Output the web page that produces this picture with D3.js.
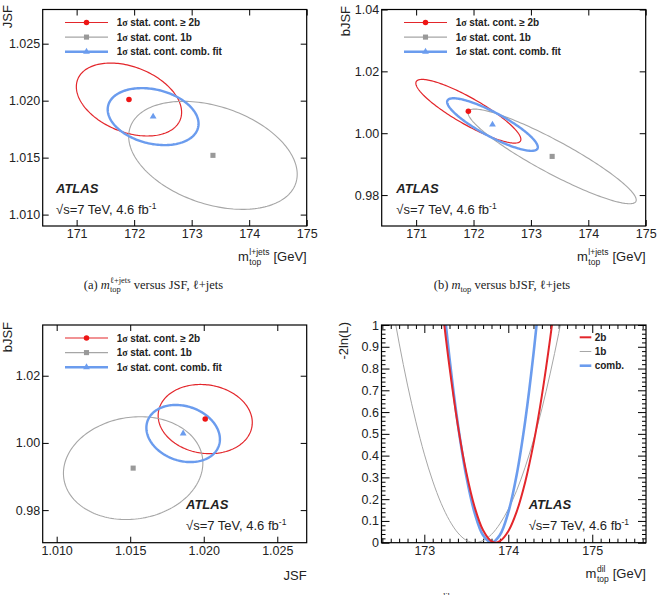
<!DOCTYPE html>
<html>
<head>
<meta charset="utf-8">
<script src="https://cdn.jsdelivr.net/npm/d3@7"></script>
<style>
body { margin: 0; background: #fff; }
svg { display: block; font-family: "Liberation Sans", Arial, sans-serif; }
text { fill: #222; white-space: pre; }
</style>
</head>
<body>
<div id="chart"></div>
<script>
// Fits: >=2b, 1b, combined (same order in every array)
var fitKeys = ["2b", "1b", "comb."];
var contourLabels = ["stat. cont. \u2265 2b", "stat. cont. 1b", "stat. cont. comb. fit"];

// best-fit values and 1 sigma stat. widths
var mtopCenter = [171.91, 173.37, 172.33];
var mtopSigma = [0.915, 1.465, 0.79];
var jsfCenter = [1.0201, 1.0152, 1.0186];
var jsfSigma = [0.0032, 0.00474, 0.0025];
var bjsfCenter = [1.0071, 0.9925, 1.0028];
var bjsfSigma = [0.0103, 0.0153, 0.0085];
var rhoMtopJsf = [-0.35, -0.35, -0.25];
var rhoMtopBjsf = [-0.88, -0.92, -0.86];
var rhoJsfBjsf = [-0.1, 0.1, -0.2];

// dilepton likelihood scans, -2ln(L)
var mass2b = [173.1, 173.2, 173.3, 173.4, 173.5, 173.6, 173.7, 173.8, 173.85, 173.9, 174.0, 174.1, 174.2, 174.3, 174.4, 174.5, 174.6];
var nll2b = [1.506, 1.129, 0.806, 0.537, 0.323, 0.163, 0.057, 0.006, 0, 0.007, 0.053, 0.143, 0.277, 0.454, 0.676, 0.942, 1.251];
var mass1b = [172.5, 172.6, 172.7, 172.8, 172.9, 173.0, 173.1, 173.2, 173.3, 173.4, 173.5, 173.6, 173.7, 173.8, 173.9, 174.0, 174.1, 174.2, 174.3, 174.4, 174.5, 174.6, 174.7, 174.8];
var nll1b = [1.369, 1.132, 0.917, 0.724, 0.555, 0.407, 0.283, 0.181, 0.102, 0.045, 0.011, 0, 0.010, 0.038, 0.087, 0.154, 0.240, 0.346, 0.471, 0.615, 0.779, 0.961, 1.163, 1.384];
var massComb = [173.1, 173.2, 173.3, 173.4, 173.5, 173.6, 173.7, 173.8, 173.9, 174.0, 174.1, 174.2, 174.3, 174.4];
var nllComb = [1.662, 1.221, 0.848, 0.543, 0.305, 0.136, 0.034, 0, 0.035, 0.139, 0.312, 0.555, 0.867, 1.248];

// tick labels
var mtopTicks = [171, 172, 173, 174, 175];
var jsfTicks = [1.010, 1.015, 1.020, 1.025];
var bjsfTicksB = [0.98, 1.00, 1.02, 1.04];
var bjsfTicksC = [0.98, 1.00, 1.02];
var dilTicks = [173, 174, 175];
var nllTicks = [0, 0.1, 0.2, 0.3, 0.4, 0.5, 0.6, 0.7, 0.8, 0.9, 1];

var lineColors = ["#e3262b", "#a6a6a6", "#6b9cee"];
var markColors = ["#ee1515", "#999999", "#6b9cee"];
var contourWidth = [1.2, 1.1, 2.4];
var scanWidth = [2, 1, 2.6];
var serif = "Liberation Serif, serif";

var svg = d3.select("#chart").append("svg")
    .attr("width", 657)
    .attr("height", 595);

function tickAxis(axisFn, scale, values, size, transform, fmt, pad) {
    var a = axisFn(scale).tickValues(values).tickSize(-size).tickPadding(pad || 3);
    a.tickFormat(fmt || function() { return ""; });
    var g = svg.append("g").attr("transform", transform).call(a)
        .attr("font-size", 12.5)
        .attr("font-family", "Liberation Sans, Arial, sans-serif");
    g.select(".domain").remove();
    g.selectAll("line").attr("stroke", "#000").attr("stroke-width", 1);
    g.selectAll("text").attr("fill", "#222");
    return g;
}

function drawFrame(box, sx, sy, xTicks, yTicks, xFmt, yFmt, len) {
    tickAxis(d3.axisBottom, sx, xTicks, len, `translate(0,${box.y1})`, xFmt, 3.6);
    tickAxis(d3.axisTop, sx, xTicks, len, `translate(0,${box.y0})`);
    tickAxis(d3.axisLeft, sy, yTicks, len, `translate(${box.x0},0)`, yFmt, 2.5);
    tickAxis(d3.axisRight, sy, yTicks, len, `translate(${box.x1},0)`);
}

function frameRect(box) {
    svg.append("rect")
        .attr("x", box.x0).attr("y", box.y0)
        .attr("width", box.x1 - box.x0).attr("height", box.y1 - box.y0)
        .attr("fill", "none").attr("stroke", "#000").attr("stroke-width", 1.2);
}

function marker(g, i, x, y) {
    var sym = [d3.symbolCircle, d3.symbolSquare, d3.symbolTriangle][i];
    var size = [24, 26, 20][i];
    g.append("path")
        .attr("d", d3.symbol().type(sym).size(size)())
        .attr("transform", `translate(${x},${y})`)
        .attr("fill", markColors[i]);
}

function yTitle(x, yEnd, label) {
    svg.append("text")
        .attr("transform", `translate(${x},${yEnd}) rotate(-90)`)
        .attr("text-anchor", "end")
        .attr("font-size", 13)
        .text(label);
}

function massTitle(xRight, base, supText) {
    var g = svg.append("g");
    var gev = g.append("text").attr("x", xRight).attr("y", base)
        .attr("text-anchor", "end").attr("font-size", 13).text("[GeV]");
    var xs = xRight - gev.node().getComputedTextLength() - 4;
    var sup = g.append("text").attr("y", base - 6).attr("font-size", 8.5).text(supText);
    var sub = g.append("text").attr("y", base + 3.5).attr("font-size", 8.5).text("top");
    var w = Math.max(sup.node().getComputedTextLength(), sub.node().getComputedTextLength());
    sup.attr("x", xs - w);
    sub.attr("x", xs - w);
    g.append("text").attr("x", xs - w - 0.5).attr("y", base)
        .attr("text-anchor", "end").attr("font-size", 13).text("m");
}

function atlasLabel(x, base) {
    svg.append("text").attr("x", x).attr("y", base)
        .attr("font-size", 13).attr("font-weight", "bold").attr("font-style", "italic")
        .text("ATLAS");
    var t = svg.append("text").attr("x", x).attr("y", base + 20.3).attr("font-size", 13);
    t.append("tspan").text("\u221As=7 TeV, 4.6 fb");
    t.append("tspan").attr("font-size", 8.5).attr("dy", -5).text("-1");
}

// caption built piece by piece (serif, with stacked sub/superscripts)
function caption(parts, xc, base) {
    var g = svg.append("g");
    var x = 0;
    parts.forEach(function(p) {
        if (p.sup !== undefined || p.sub !== undefined) {
            var w = 0;
            if (p.sup !== undefined) {
                var s = g.append("text").attr("x", x).attr("y", base - 5.5)
                    .attr("font-family", serif).attr("font-size", 8.5).text(p.sup);
                w = Math.max(w, s.node().getComputedTextLength());
            }
            if (p.sub !== undefined) {
                var b = g.append("text").attr("x", x).attr("y", base + 3)
                    .attr("font-family", serif).attr("font-size", 8.5).text(p.sub);
                w = Math.max(w, b.node().getComputedTextLength());
            }
            x += w;
        } else {
            var t = g.append("text").attr("x", x).attr("y", base)
                .attr("font-family", serif).attr("font-size", 12.5)
                .attr("font-style", p.italic ? "italic" : "normal").text(p.t);
            x += t.node().getComputedTextLength();
        }
    });
    g.attr("transform", `translate(${xc - x / 2},0)`);
}

function contourPanel(box, xDomain, yDomain, xTicks, yTicks, xFmt, yFmt, xc, xsig, yc, ysig, rho) {
    var sx = d3.scaleLinear().domain(xDomain).range([box.x0, box.x1]);
    var sy = d3.scaleLinear().domain(yDomain).range([box.y1, box.y0]);
    drawFrame(box, sx, sy, xTicks, yTicks, xFmt, yFmt, 6);

    var line = d3.line().x(d => sx(d[0])).y(d => sy(d[1])).curve(d3.curveLinearClosed);
    var ang = d3.range(0, 2 * Math.PI, Math.PI / 90);
    var g = svg.append("g");
    [0, 1, 2].forEach(function(i) {
        var pts = ang.map(function(t) {
            return [xc[i] + xsig[i] * Math.cos(t),
                    yc[i] + ysig[i] * (rho[i] * Math.cos(t) + Math.sqrt(1 - rho[i] * rho[i]) * Math.sin(t))];
        });
        g.append("path").attr("d", line(pts))
            .attr("fill", "none").attr("stroke", lineColors[i]).attr("stroke-width", contourWidth[i]);
    });
    [0, 1, 2].forEach(function(i) { marker(g, i, sx(xc[i]), sy(yc[i])); });

    // legend
    var lg = svg.append("g").attr("transform", `translate(${box.x0 + 22.3},${box.y0 + 13})`);
    contourLabels.forEach(function(lab, i) {
        var y = i * 14.6;
        lg.append("line").attr("x1", 0).attr("x2", 43).attr("y1", y).attr("y2", y)
            .attr("stroke", lineColors[i]).attr("stroke-width", contourWidth[i]);
        marker(lg, i, 21.5, y);
        var t = lg.append("text").attr("x", 51.7).attr("y", y).attr("dy", "0.35em")
            .attr("font-size", 10).attr("font-weight", "bold");
        t.append("tspan").text("1");
        t.append("tspan").attr("font-family", serif).text("\u03C3 ");
        t.append("tspan").text(lab);
    });
    frameRect(box);
}

var f3 = d3.format(".3f"), f2 = d3.format(".2f"), f0 = d3.format("d");

// (a) mtop vs JSF
var boxA = {x0: 42.7, x1: 306.7, y0: 9.5, y1: 226};
contourPanel(boxA, [170.41, 175], [1.0090, 1.0280], mtopTicks, jsfTicks, f0, f3,
    mtopCenter, mtopSigma, jsfCenter, jsfSigma, rhoMtopJsf);
atlasLabel(56, 193.3);
yTitle(11.5, 5, "JSF");
massTitle(boxA.x1, 261, "l+jets");
caption([{t: "(a) "}, {t: "m", italic: true}, {sup: "\u2113+jets", sub: "top"}, {t: " versus JSF, \u2113+jets"}], 153.5, 288.5);

// (b) mtop vs bJSF
var boxB = {x0: 381.7, x1: 645.7, y0: 9.5, y1: 226};
contourPanel(boxB, [170.40, 175], [0.970, 1.040], mtopTicks, bjsfTicksB, f0, f2,
    mtopCenter, mtopSigma, bjsfCenter, bjsfSigma, rhoMtopBjsf);
atlasLabel(396.3, 193.3);
yTitle(350, 6, "bJSF");
massTitle(boxB.x1, 261, "l+jets");
caption([{t: "(b) "}, {t: "m", italic: true}, {sub: "top"}, {t: " versus bJSF, \u2113+jets"}], 502, 288.5);

// (c) JSF vs bJSF
var boxC = {x0: 42.7, x1: 306.7, y0: 325, y1: 542.7};
contourPanel(boxC, [1.00905, 1.0270], [0.9703, 1.0351], jsfTicks, bjsfTicksC, f3, f2,
    jsfCenter, jsfSigma, bjsfCenter, bjsfSigma, rhoJsfBjsf);
atlasLabel(186, 509.3);
yTitle(12, 322, "bJSF");
svg.append("text").attr("x", boxC.x1).attr("y", 580).attr("text-anchor", "end")
    .attr("font-size", 13).text("JSF");

// (d) dilepton likelihood scans
var boxD = {x0: 381.5, x1: 646, y0: 325, y1: 542.7};
var sxD = d3.scaleLinear().domain([172.49, 175.64]).range([boxD.x0, boxD.x1]);
var syD = d3.scaleLinear().domain([0, 1]).range([boxD.y1, boxD.y0]);
drawFrame(boxD, sxD, syD, dilTicks, nllTicks, f0, d3.format(".1~f"), 8);
var xMinor = d3.range(172.5, 175.65, 0.1).filter(v => Math.abs(v - Math.round(v)) > 0.01);
var yMinor = d3.range(0.02, 1, 0.02).filter(v => Math.abs(v * 10 - Math.round(v * 10)) > 0.01);
tickAxis(d3.axisBottom, sxD, xMinor, 4, `translate(0,${boxD.y1})`);
tickAxis(d3.axisTop, sxD, xMinor, 4, `translate(0,${boxD.y0})`);
tickAxis(d3.axisLeft, syD, yMinor, 4, `translate(${boxD.x0},0)`);
tickAxis(d3.axisRight, syD, yMinor, 4, `translate(${boxD.x1},0)`);

svg.append("clipPath").attr("id", "clipD").append("rect")
    .attr("x", boxD.x0).attr("y", boxD.y0)
    .attr("width", boxD.x1 - boxD.x0).attr("height", boxD.y1 - boxD.y0);
var scanLine = d3.line().x(d => sxD(d[0])).y(d => syD(d[1])).curve(d3.curveCatmullRom.alpha(0.5));
var scans = [d3.zip(mass2b, nll2b), d3.zip(mass1b, nll1b), d3.zip(massComb, nllComb)];
var gD = svg.append("g").attr("clip-path", "url(#clipD)");
[1, 2, 0].forEach(function(i) {
    gD.append("path").attr("d", scanLine(scans[i]))
        .attr("fill", "none").attr("stroke", lineColors[i]).attr("stroke-width", scanWidth[i]);
});
var lgD = svg.append("g").attr("transform", `translate(${boxD.x0 + 198.2},${boxD.y0 + 12.3})`);
fitKeys.forEach(function(k, i) {
    var y = i * 14.2;
    lgD.append("line").attr("x1", 0).attr("x2", 11.6).attr("y1", y).attr("y2", y)
        .attr("stroke", lineColors[i]).attr("stroke-width", scanWidth[i]);
    lgD.append("text").attr("x", 15).attr("y", y).attr("dy", "0.35em")
        .attr("font-size", 10).attr("font-weight", "bold").text(k);
});
frameRect(boxD);
atlasLabel(528.7, 509.3);
yTitle(348, 322, "-2ln(L)");
massTitle(boxD.x1, 578, "dil");
// only the superscript of caption (d) reaches into the picture
svg.append("text").attr("x", 441).attr("y", 598.5)
    .attr("font-family", serif).attr("font-size", 8.5).text("dil");
</script>
</body>
</html>
